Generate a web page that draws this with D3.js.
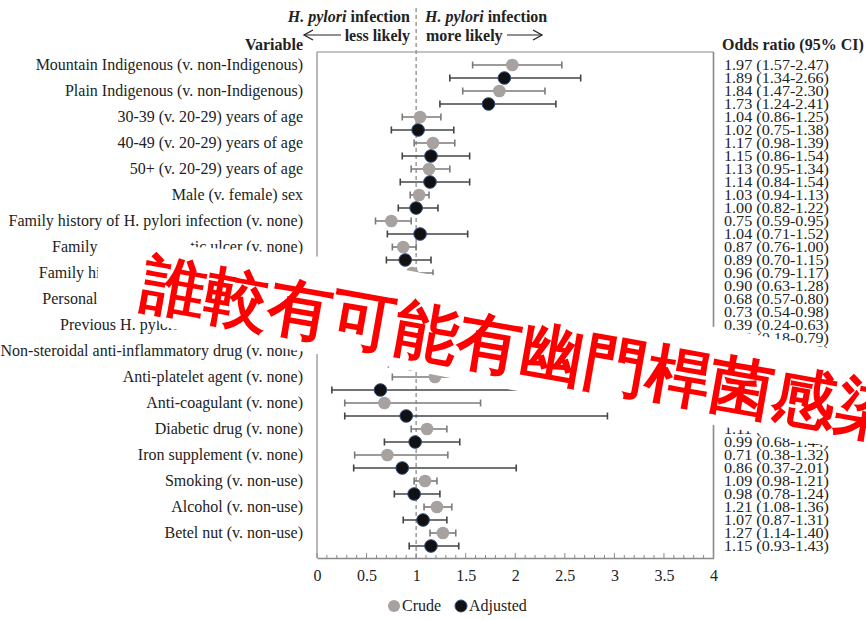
<!DOCTYPE html>
<html>
<head>
<meta charset="utf-8">
<script src="https://cdn.jsdelivr.net/npm/d3@7"></script>
<style>
  html, body { margin: 0; padding: 0; background: #fff; }
  svg { display: block; }
  text { font-family: "Liberation Serif", "Times New Roman", serif; }
</style>
</head>
<body>
<svg id="chart" width="866" height="620"></svg>
<script>
// Variables compared in the model (reference category in brackets)
const variables = [
  "Mountain Indigenous (v. non-Indigenous)",
  "Plain Indigenous (v. non-Indigenous)",
  "30-39 (v. 20-29) years of age",
  "40-49 (v. 20-29) years of age",
  "50+ (v. 20-29) years of age",
  "Male (v. female) sex",
  "Family history of H. pylori infection (v. none)",
  "Family history of peptic ulcer (v. none)",
  "Family history of gastric cancer (v. none)",
  "Personal history of peptic ulcer (v. none)",
  "Previous H. pylori treatment (v. none)",
  "Non-steroidal anti-inflammatory drug (v. none)",
  "Anti-platelet agent (v. none)",
  "Anti-coagulant (v. none)",
  "Diabetic drug (v. none)",
  "Iron supplement (v. none)",
  "Smoking (v. non-use)",
  "Alcohol (v. non-use)",
  "Betel nut (v. non-use)"
];

// Crude odds ratios with 95% CI
const crudeOR = [1.97, 1.84, 1.04, 1.17, 1.13, 1.03, 0.75, 0.87, 0.96, 0.68, 0.39, 0.92, 1.19, 0.68, 1.11, 0.71, 1.09, 1.21, 1.27];
const crudeLo = [1.57, 1.47, 0.86, 0.98, 0.95, 0.94, 0.59, 0.76, 0.79, 0.57, 0.24, 0.78, 0.76, 0.28, 0.95, 0.38, 0.98, 1.08, 1.14];
const crudeHi = [2.47, 2.30, 1.25, 1.39, 1.34, 1.13, 0.95, 1.00, 1.17, 0.80, 0.63, 1.09, 1.86, 1.65, 1.31, 1.32, 1.21, 1.36, 1.40];

// Adjusted odds ratios with 95% CI
const adjOR = [1.89, 1.73, 1.02, 1.15, 1.14, 1.00, 1.04, 0.89, 0.90, 0.73, 0.38, 0.95, 0.64, 0.90, 0.99, 0.86, 0.98, 1.07, 1.15];
const adjLo = [1.34, 1.24, 0.75, 0.86, 0.84, 0.82, 0.71, 0.70, 0.63, 0.54, 0.18, 0.72, 0.15, 0.28, 0.68, 0.37, 0.78, 0.87, 0.93];
const adjHi = [2.66, 2.41, 1.38, 1.54, 1.54, 1.22, 1.52, 1.15, 1.28, 0.98, 0.79, 1.25, 2.70, 2.93, 1.44, 2.01, 1.24, 1.31, 1.43];

const xTickValues = [0, 0.5, 1, 1.5, 2, 2.5, 3, 3.5, 4];
const seriesNames = ["Crude", "Adjusted"];

const bannerText = "誰較有可能有幽門桿菌感染";

const svg = d3.select("#chart");

const x = d3.scaleLinear().domain([0, 4]).range([317, 713.5]);
// one slot per estimate: crude then adjusted for each variable
const y = d3.scaleLinear().domain([0, 2 * variables.length - 1]).range([65, 546]);

const plotTop = 52, plotBottom = 558;

const colCrude = "#a7a2a0", colAdj = "#111111";
const barCrude = "#7a7a7a", barAdj = "#444444";
const ink = "#222";

// rows of estimates
const rows = [];
variables.forEach((v, i) => {
  rows.push({ series: 0, idx: 2 * i, or: crudeOR[i], lo: crudeLo[i], hi: crudeHi[i] });
  rows.push({ series: 1, idx: 2 * i + 1, or: adjOR[i], lo: adjLo[i], hi: adjHi[i] });
});

// frame
const frame = svg.append("g");
frame.append("line").attr("x1", x(0)).attr("x2", x(4)).attr("y1", plotTop).attr("y2", plotTop)
  .attr("stroke", "#8a8a8a").attr("stroke-width", 1.2);
frame.append("line").attr("x1", x(4)).attr("x2", x(4)).attr("y1", plotTop).attr("y2", plotBottom)
  .attr("stroke", "#8a8a8a").attr("stroke-width", 1.6);
frame.append("line").attr("x1", x(0)).attr("x2", x(0)).attr("y1", plotTop).attr("y2", plotBottom)
  .attr("stroke", "#8a8a8a").attr("stroke-width", 1.2);

// x axis
const axisG = svg.append("g").attr("transform", `translate(0,${plotBottom})`);
axisG.call(d3.axisBottom(x).tickValues(xTickValues).tickSize(0).tickPadding(12)
  .tickFormat(d => String(d)));
axisG.select(".domain").attr("stroke", "#8a8a8a").attr("stroke-width", 1.6);
axisG.selectAll("text").attr("font-family", "Liberation Serif").attr("font-size", 16).attr("fill", ink);
// minor and major tick marks pointing up
const minor = d3.range(0, 40.5, 1).map(d => d / 10);
axisG.selectAll(".mt").data(minor).enter().append("line")
  .attr("x1", d => x(d)).attr("x2", d => x(d))
  .attr("y1", 0).attr("y2", d => (Math.round(d * 10) % 5 === 0 ? -5 : -3))
  .attr("stroke", "#8a8a8a").attr("stroke-width", 1);

// reference line at OR = 1
svg.append("line").attr("x1", x(1)).attr("x2", x(1)).attr("y1", 8).attr("y2", plotBottom)
  .attr("stroke", "#8c8c8c").attr("stroke-width", 1.3).attr("stroke-dasharray", "4,3");

// error bars
const bars = svg.append("g").selectAll("g").data(rows).enter().append("g");
bars.append("line")
  .attr("x1", d => x(d.lo)).attr("x2", d => x(d.hi))
  .attr("y1", d => y(d.idx)).attr("y2", d => y(d.idx))
  .attr("stroke", d => d.series ? barAdj : barCrude).attr("stroke-width", 1.6);
["lo", "hi"].forEach(k => {
  bars.append("line")
    .attr("x1", d => x(d[k])).attr("x2", d => x(d[k]))
    .attr("y1", d => y(d.idx) - 3.5).attr("y2", d => y(d.idx) + 3.5)
    .attr("stroke", d => d.series ? barAdj : barCrude).attr("stroke-width", 1.6);
});
bars.append("circle")
  .attr("cx", d => x(d.or)).attr("cy", d => y(d.idx)).attr("r", 6.3)
  .attr("fill", d => d.series ? colAdj : colCrude)
  .attr("stroke", d => d.series ? "#2b4a80" : "none").attr("stroke-width", 1);

// variable labels
svg.append("g").selectAll("text").data(variables).enter().append("text")
  .attr("x", 303).attr("y", (d, i) => y(2 * i) + 5)
  .attr("text-anchor", "end").attr("font-size", 16).attr("fill", ink)
  .text(d => d);

// odds ratio table
const fmt = d3.format(".2f");
svg.append("g").selectAll("text").data(rows).enter().append("text")
  .attr("x", 724).attr("y", d => y(d.idx) + 5)
  .attr("font-size", 15).attr("fill", ink)
  .attr("textLength", 105).attr("lengthAdjust", "spacingAndGlyphs")
  .text(d => `${fmt(d.or)} (${fmt(d.lo)}-${fmt(d.hi)})`);

// headers
svg.append("text").attr("x", 303).attr("y", 50).attr("text-anchor", "end")
  .attr("font-size", 16).attr("font-weight", "bold").attr("fill", ink).text("Variable");
svg.append("text").attr("x", 722).attr("y", 50)
  .attr("font-size", 16).attr("font-weight", "bold").attr("fill", ink).text("Odds ratio (95% CI)");

function pyloriTitle(xPos, anchor) {
  const t = svg.append("text").attr("x", xPos).attr("y", 22).attr("text-anchor", anchor)
    .attr("font-size", 16).attr("font-weight", "bold").attr("fill", ink);
  t.append("tspan").attr("font-style", "italic").text("H. pylori");
  t.append("tspan").text(" infection");
}
pyloriTitle(410, "end");
pyloriTitle(425, "start");
svg.append("text").attr("x", 410).attr("y", 41).attr("text-anchor", "end")
  .attr("font-size", 16).attr("font-weight", "bold").attr("fill", ink).text("less likely");
svg.append("text").attr("x", 426).attr("y", 41)
  .attr("font-size", 16).attr("font-weight", "bold").attr("fill", ink).text("more likely");

// direction arrows
function arrow(x1, x2, yy) {
  const dir = Math.sign(x2 - x1);
  svg.append("line").attr("x1", x1).attr("x2", x2).attr("y1", yy).attr("y2", yy)
    .attr("stroke", ink).attr("stroke-width", 1.2);
  svg.append("path")
    .attr("d", `M${x2 - dir * 9},${yy - 5} L${x2},${yy} L${x2 - dir * 9},${yy + 5}`)
    .attr("fill", "none").attr("stroke", ink).attr("stroke-width", 1.3);
}
arrow(341, 304, 35);
arrow(507, 542, 35);

// legend
const legend = svg.append("g");
seriesNames.forEach((name, i) => {
  const lx = [394, 461][i];
  legend.append("circle").attr("cx", lx).attr("cy", 606).attr("r", 6)
    .attr("fill", i ? colAdj : colCrude).attr("stroke", i ? "#2b4a80" : "none");
  legend.append("text").attr("x", lx + 8).attr("y", 611).attr("font-size", 16)
    .attr("fill", ink).text(name);
});

// overlay banner: white patch with slanted red caption
const patch = [
  [99, 235], [180, 239], [195, 247], [300, 254], [411, 271], [714, 327], [870, 356],
  [870, 454], [714, 425], [507, 389], [430, 374], [300, 351], [200, 335], [165, 327], [150, 314], [97, 306]
];
svg.append("path").attr("d", d3.line()(patch) + "Z").attr("fill", "#fff");
svg.append("g").attr("transform", "translate(138,310) rotate(10)")
  .append("text").attr("x", 0).attr("y", -6)
  .attr("font-family", "'Noto Sans CJK TC', 'Noto Sans CJK SC', sans-serif")
  .attr("font-weight", 700).attr("font-size", 64).attr("fill", "#ff0000")
  .text(bannerText);
</script>
</body>
</html>
